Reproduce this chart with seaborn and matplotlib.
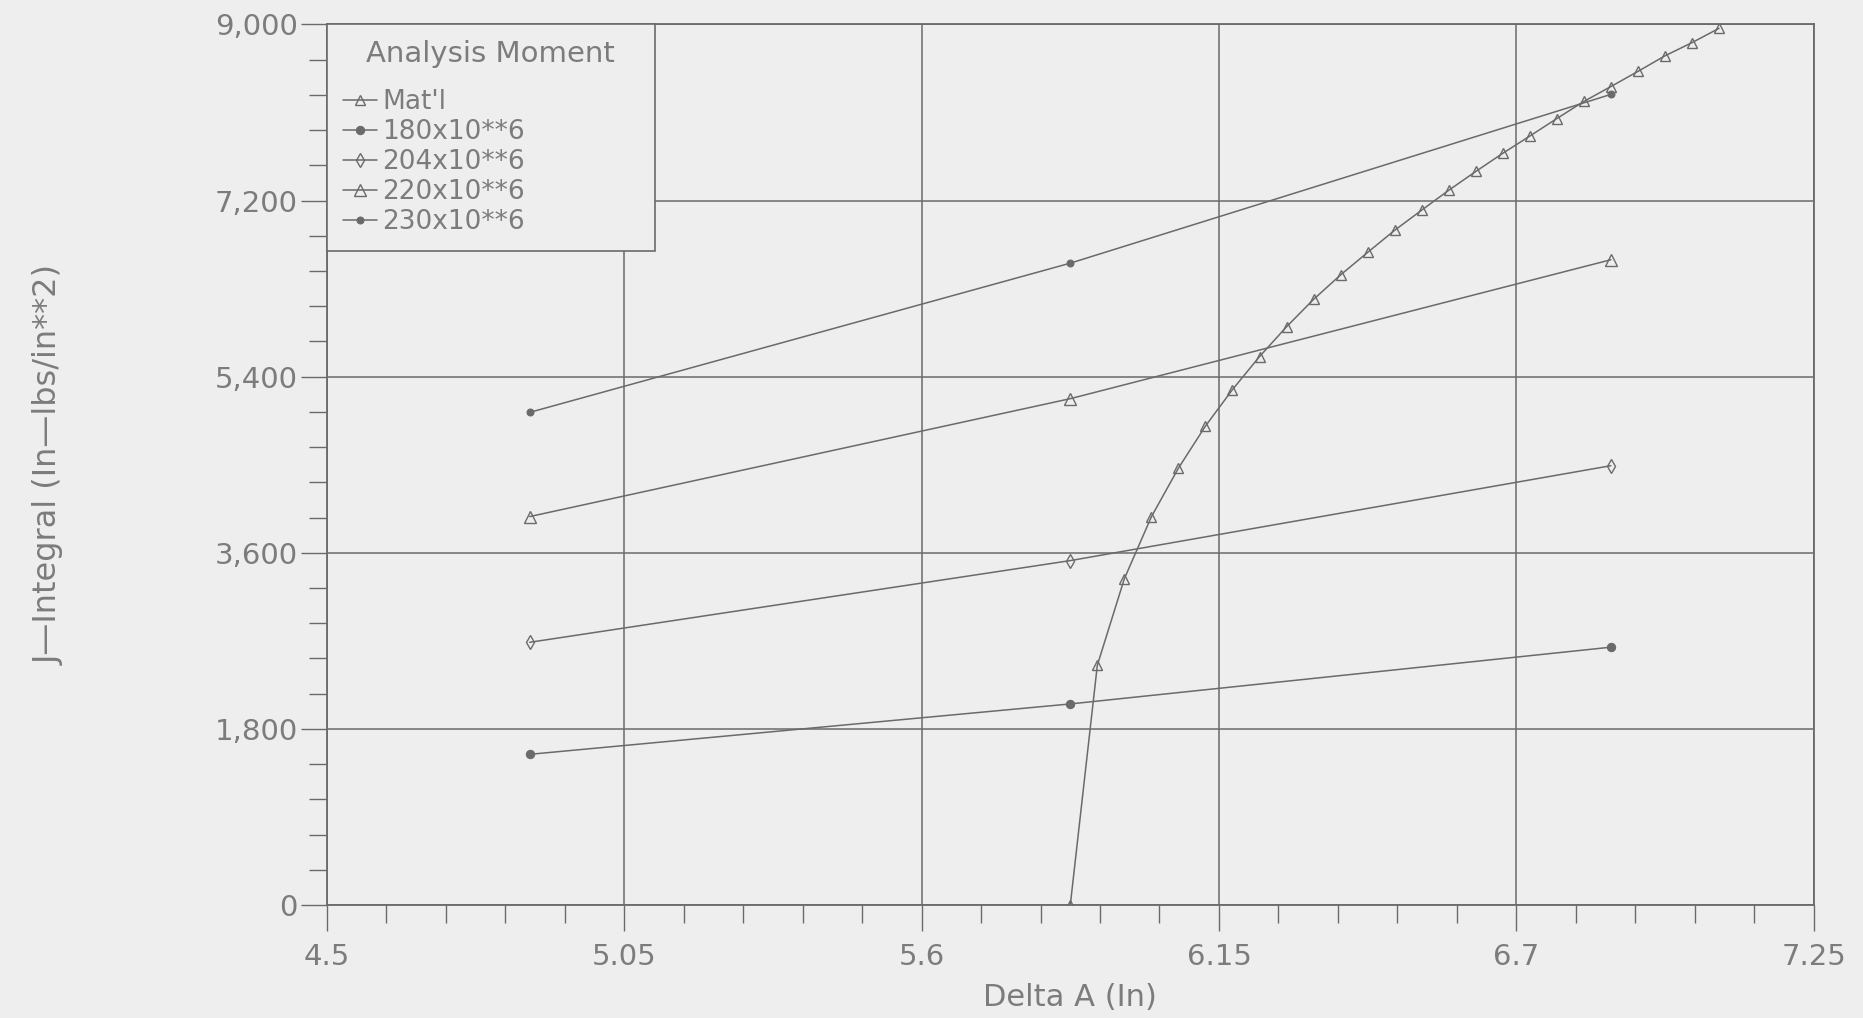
import matplotlib
matplotlib.use('Agg')
import matplotlib.pyplot as plt
from matplotlib.ticker import FixedLocator, AutoMinorLocator, FuncFormatter
import seaborn as sns

sns.set_theme(style="white")
plt.rcParams['font.family'] = ['DejaVu Sans']

# applied moment curves (3 points each)
delta_a = [4.875, 5.875, 6.875]
j_180 = [1540, 2055, 2635]
j_204 = [2685, 3520, 4490]
j_220 = [3970, 5175, 6595]
j_230 = [5035, 6560, 8285]

# material J-R curve
mat_delta_a = [5.875, 5.925, 5.975, 6.025, 6.075, 6.125, 6.175, 6.225, 6.275,
               6.325, 6.375, 6.425, 6.475, 6.525, 6.575, 6.625, 6.675, 6.725,
               6.775, 6.825, 6.875, 6.925, 6.975, 7.025, 7.075]
mat_j = [0, 2450, 3335, 3968, 4465, 4895, 5268, 5605, 5910,
         6190, 6440, 6670, 6896, 7102, 7305, 7497, 7683, 7859,
         8038, 8213, 8365, 8520, 8679, 8814, 8960]

x_ticks = [4.5, 5.05, 5.6, 6.15, 6.7, 7.25]
x_tick_labels = ["4.5", "5.05", "5.6", "6.15", "6.7", "7.25"]
y_ticks = [0, 1800, 3600, 5400, 7200, 9000]

bg = "#eeeeee"
ink = "#6a6a6a"
txt = "#7c7c7c"

fig = plt.figure(figsize=(18.63, 10.18), dpi=100)
fig.patch.set_facecolor(bg)
ax = fig.add_axes([0.1755, 0.111, 0.798, 0.865])
ax.set_facecolor(bg)

lw = 1.1
sns.lineplot(x=mat_delta_a, y=mat_j, ax=ax, color=ink, lw=lw, marker="^", markersize=7,
             markerfacecolor="none", markeredgecolor=ink, markeredgewidth=1, label="Mat'l")
sns.lineplot(x=delta_a, y=j_180, ax=ax, color=ink, lw=lw, marker="o", markersize=6,
             markerfacecolor=ink, markeredgecolor=ink, label="180x10**6")
sns.lineplot(x=delta_a, y=j_204, ax=ax, color=ink, lw=lw, marker="d", markersize=7,
             markerfacecolor="none", markeredgecolor=ink, markeredgewidth=1, label="204x10**6")
sns.lineplot(x=delta_a, y=j_220, ax=ax, color=ink, lw=lw, marker="^", markersize=8,
             markerfacecolor="none", markeredgecolor=ink, markeredgewidth=1, label="220x10**6")
sns.lineplot(x=delta_a, y=j_230, ax=ax, color=ink, lw=lw, marker="o", markersize=5,
             markerfacecolor=ink, markeredgecolor=ink, label="230x10**6")

ax.set_xlim(4.5, 7.25)
ax.set_ylim(0, 9000)
ax.xaxis.set_major_locator(FixedLocator(x_ticks))
ax.set_xticklabels(x_tick_labels)
ax.xaxis.set_minor_locator(AutoMinorLocator(5))
ax.yaxis.set_major_locator(FixedLocator(y_ticks))
ax.yaxis.set_major_formatter(FuncFormatter(lambda v, p: f"{int(v):,}"))
ax.yaxis.set_minor_locator(AutoMinorLocator(5))

ax.grid(which="major", color=ink, lw=1.1)
for s in ax.spines.values():
    s.set_visible(True)
    s.set_color(ink)
    s.set_linewidth(1.3)

ax.tick_params(which="both", bottom=True, left=True, top=False, right=False)
ax.tick_params(which="major", direction="out", length=19, width=1, color=ink,
               labelsize=21, labelcolor=txt)
ax.tick_params(which="minor", direction="out", length=13, width=1, color=ink)
ax.tick_params(axis="x", which="major", pad=8)
ax.tick_params(axis="y", which="major", pad=2)

ax.set_xlabel("Delta A (In)", fontsize=22, color=txt, labelpad=9)
ax.set_ylabel("J\u2014Integral (In\u2014lbs/in**2)", fontsize=23, color=txt, labelpad=108)

leg = ax.legend(loc="upper left", bbox_to_anchor=(0, 0, 0.2205, 1), mode="expand",
                title="Analysis Moment", fontsize=19, title_fontsize=21,
                frameon=True, fancybox=False, borderaxespad=0, handlelength=1.3,
                handletextpad=0.2, labelspacing=0.15, borderpad=0.6)
# more room between the title and the entries
leg._legend_box.sep = 15
leg.get_frame().set_edgecolor(ink)
leg.get_frame().set_facecolor(bg)
leg.get_frame().set_alpha(1)
leg.get_frame().set_linewidth(1.2)
leg.get_title().set_color(txt)
for t in leg.get_texts():
    t.set_color(txt)

fig.savefig("out.png", dpi=100, facecolor=bg)
